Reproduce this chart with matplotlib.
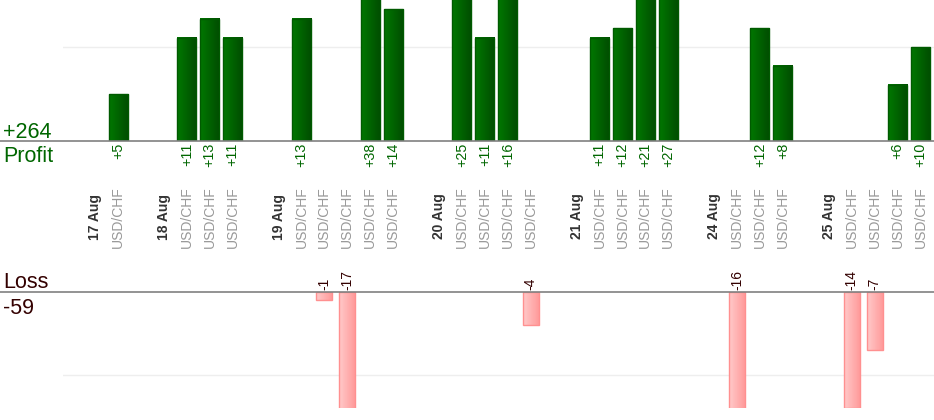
import numpy as np
import matplotlib
matplotlib.use("Agg")
import matplotlib.pyplot as plt
from matplotlib.colors import LinearSegmentedColormap
from matplotlib.transforms import blended_transform_factory

plt.rcParams['font.family'] = ['Liberation Sans', 'DejaVu Sans']

# data
days = ["17 Aug", "18 Aug", "19 Aug", "20 Aug", "21 Aug", "24 Aug", "25 Aug"]
pair = "USD/CHF"
trades = [
    [5],
    [11, 13, 11],
    [13, -1, -17, 38, 14],
    [25, 11, 16, -4],
    [11, 12, 21, 27],
    [-16, 12, 8],
    [-14, -7, 6, 10],
]

# build the slot sequence: date, trades, empty gap
labels = []
results = []
for i, (d, tr) in enumerate(zip(days, trades)):
    labels.append(d)
    results.append(None)
    for v in tr:
        labels.append(pair)
        results.append(v)
    if i < len(days) - 1:
        labels.append("")
        results.append(None)

xs = np.arange(len(labels))
prof_x = [x for x, r in zip(xs, results) if r is not None and r > 0]
prof_v = [r for r in results if r is not None and r > 0]
loss_x = [x for x, r in zip(xs, results) if r is not None and r < 0]
loss_v = [r for r in results if r is not None and r < 0]
total_profit = sum(prof_v)
total_loss = sum(loss_v)

green_txt = "#006600"
loss_txt = "#330000"
green_cmap = LinearSegmentedColormap.from_list("g", ["#007800", "#004c00"])
pink_cmap = LinearSegmentedColormap.from_list("p", ["#ffcaca", "#ff9898"])

W, H = 934, 420
fig = plt.figure(figsize=(W / 100, H / 100), dpi=100)
left = 63 / W
ax_p = fig.add_axes([left, (H - 141) / H, 1 - left, 141 / H])
ax_l = fig.add_axes([left, (H - 408) / H, 1 - left, 116 / H])

xlim = (-1.4, 36.59)


def gradient_bars(ax, x, v, width, cmap, edge):
    bars = ax.bar(x, v, width=width, facecolor="none", edgecolor=edge,
                  linewidth=1, zorder=3)
    grad = np.linspace(0, 1, 64).reshape(1, -1)
    for b in bars:
        x0, y0 = b.get_x(), b.get_y()
        x1, y1 = x0 + b.get_width(), y0 + b.get_height()
        ax.imshow(grad, extent=[x0, x1, min(y0, y1), max(y0, y1)],
                  aspect="auto", cmap=cmap, zorder=2, interpolation="bilinear")
    return bars


gradient_bars(ax_p, prof_x, prof_v, 0.83, green_cmap, "#005a00")
gradient_bars(ax_l, loss_x, loss_v, 0.70, pink_cmap, "#ff9090")

ax_p.set_xlim(*xlim)
ax_p.set_ylim(0, 15)
ax_l.set_xlim(*xlim)
ax_l.set_ylim(-14, 0)

for ax, g in ((ax_p, 10), (ax_l, -10)):
    ax.axhline(g, color="#eeeeee", lw=1, zorder=1)
    ax.axhline(0, xmin=-left / (1 - left), xmax=1, color="#808080", lw=1.2,
               zorder=4, clip_on=False)
    ax.set_axis_off()

# value labels
for x, v in zip(prof_x, prof_v):
    ax_p.annotate(f"+{v}", (x, 0), xytext=(0, -1.5), textcoords="offset points",
                  rotation=90, ha="center", va="top", fontsize=10.3,
                  color=green_txt, annotation_clip=False)
for x, v in zip(loss_x, loss_v):
    ax_l.annotate(f"{v}", (x, 0), xytext=(0, 1.5), textcoords="offset points",
                  rotation=90, ha="center", va="bottom", fontsize=10,
                  color=loss_txt, annotation_clip=False)

# category labels between the panels
tr = blended_transform_factory(ax_p.transData, fig.transFigure)
for x, lab in zip(xs, labels):
    if not lab:
        continue
    if lab == pair:
        ax_p.text(x, (H - 217) / H, lab, transform=tr, rotation=90,
                  ha="center", va="center", fontsize=10, color="#999999",
                  clip_on=False)
    else:
        ax_p.text(x, (H - 216.5) / H, lab, transform=tr, rotation=90,
                  ha="center", va="center", fontsize=10, fontweight="bold",
                  color="#333333", clip_on=False)

# totals on the left
fig.text(3 / W, (H - 137.5) / H, f"+{total_profit}", fontsize=15.5,
         color=green_txt, va="baseline", ha="left")
fig.text(3 / W, (H - 162.5) / H, "Profit", fontsize=15.5,
         color=green_txt, va="baseline", ha="left")
fig.text(3 / W, (H - 287.5) / H, "Loss", fontsize=15.5,
         color=loss_txt, va="baseline", ha="left")
fig.text(3 / W, (H - 313.5) / H, f"{total_loss}", fontsize=15.5,
         color=loss_txt, va="baseline", ha="left")

fig.savefig("out.png", dpi=100)
